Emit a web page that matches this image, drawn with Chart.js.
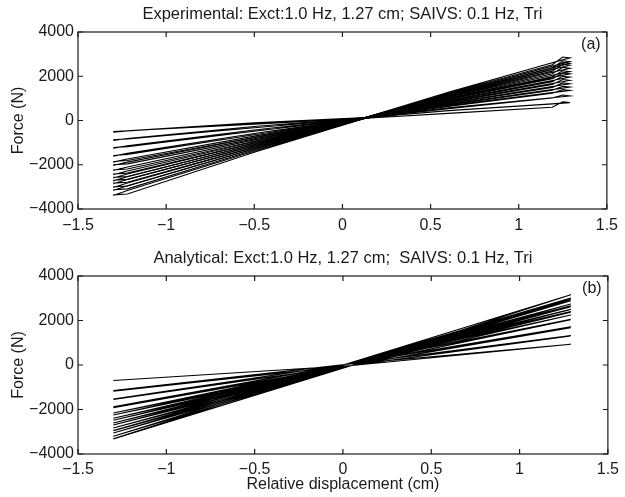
<!DOCTYPE html>
<html><head><meta charset="utf-8">
<script src="https://cdn.jsdelivr.net/npm/chart.js@4.4.1/dist/chart.umd.min.js"></script>
<style>
html,body{margin:0;padding:0;background:#fff;}
#wrap{position:relative;width:625px;height:497px;background:#fff;}
canvas{position:absolute;left:0;}
#chartA{top:0;}
#chartB{top:248px;}
</style></head><body>
<div id="wrap">
<canvas id="chartA" width="625" height="248"></canvas>
<canvas id="chartB" width="625" height="249"></canvas>
</div>
<script>
const titleA = 'Experimental: Exct:1.0 Hz, 1.27 cm; SAIVS: 0.1 Hz, Tri';
const titleB = 'Analytical: Exct:1.0 Hz, 1.27 cm;  SAIVS: 0.1 Hz, Tri';
const tagA = '(a)';
const tagB = '(b)';
const xAxisTitle = 'Relative displacement (cm)';
const yAxisTitle = 'Force (N)';
const xTickValues = [-1.5, -1, -0.5, 0, 0.5, 1, 1.5];
const xTickLabels = ['\u22121.5', '\u22121', '\u22120.5', '0', '0.5', '1', '1.5'];
const yTickValues = [-4000, -2000, 0, 2000, 4000];
const yTickLabels = ['\u22124000', '\u22122000', '0', '2000', '4000'];

// Panel (a): experimental loops. Displacement (cm) vertices of each loading / unloading branch
const dispUpA = [-1.30, -1.22, -0.5, 0.13, 0.6, 1.19, 1.25, 1.29];
const dispDownA = [1.29, 1.19, 0.6, 0.13, -0.5, -1.22, -1.30];
// Force (N) at those vertices, one row per loop
const forceUpA = [
  [-500, -460, -166, 100, 324, 600, 850, 810],
  [-870, -830, -330, 100, 529, 1015, 1150, 1110],
  [-1220, -1180, -486, 100, 631, 1233, 1400, 1360],
  [-1580, -1540, -645, 100, 693, 1365, 1550, 1510],
  [-1850, -1810, -765, 100, 754, 1495, 1700, 1660],
  [-2000, -1960, -832, 100, 815, 1627, 1850, 1810],
  [-2230, -2190, -934, 100, 876, 1758, 2000, 1960],
  [-2420, -2380, -1018, 100, 938, 1891, 2150, 2110],
  [-2570, -2530, -1084, 100, 979, 1978, 2250, 2210],
  [-2700, -2660, -1142, 100, 1040, 2109, 2400, 2360],
  [-2830, -2790, -1200, 100, 1097, 2232, 2540, 2500],
  [-3000, -2960, -1275, 100, 1130, 2301, 2620, 2580],
  [-3130, -3090, -1333, 100, 1163, 2372, 2700, 2660],
  [-3360, -3320, -1435, 100, 1232, 2521, 2870, 2830]
];
const forceDownA = [
  [810, 751, 446, 130, -106, -467, -530],
  [1110, 1028, 569, 130, -270, -815, -900],
  [1360, 1258, 671, 130, -426, -1146, -1250],
  [1510, 1397, 733, 130, -585, -1485, -1610],
  [1660, 1535, 794, 130, -705, -1740, -1880],
  [1810, 1673, 855, 130, -772, -1882, -2030],
  [1960, 1811, 916, 130, -874, -2099, -2260],
  [2110, 1950, 978, 130, -958, -2279, -2450],
  [2210, 2042, 1019, 130, -1024, -2419, -2600],
  [2360, 2180, 1080, 130, -1082, -2542, -2730],
  [2500, 2309, 1137, 130, -1140, -2664, -2860],
  [2580, 2383, 1170, 130, -1215, -2825, -3030],
  [2660, 2457, 1203, 130, -1273, -2949, -3160],
  [2830, 2613, 1272, 130, -1375, -3166, -3390]
];

// Panel (b): analytical trajectory. Turning points and zero crossings
const dispLeftB = -1.30;
const dispRightB = 1.29;
const crossUpB = [0.05, -20];   // [displacement, force] where loading branch crosses
const crossDownB = [0.01, 20];  // [displacement, force] where unloading branch crosses
const leftForceB = [-700, -1150, -1180, -1530, -1550, -1880, -1920, -2160, -2250, -2390, -2480, -2610, -2700, -2830, -2950, -3060, -3200, -3320, -3330];
const rightForceB = [930, 1300, 1320, 1680, 1720, 2030, 2060, 2250, 2370, 2400, 2500, 2620, 2660, 2740, 2890, 2950, 3010, 3160];

const FONT = '"Liberation Sans", Arial, Helvetica, sans-serif';
const TXT = '#1a1a1a';

function labelFor(values, labels, v) {
  const i = values.findIndex(t => Math.abs(t - v) < 1e-9);
  return i >= 0 ? labels[i] : '';
}

const framePlugin = {
  id: 'frame',
  afterDatasetsDraw(chart, args, opts) {
    const {ctx, chartArea} = chart;
    const {left, right, top, bottom} = chartArea;
    const xs = chart.scales.x, ys = chart.scales.y;
    ctx.save();
    ctx.strokeStyle = TXT;
    ctx.lineWidth = 1.2;
    ctx.strokeRect(left, top, right - left, bottom - top);
    const tl = 5;
    ctx.beginPath();
    xTickValues.forEach(v => {
      const p = xs.getPixelForValue(v);
      ctx.moveTo(p, bottom); ctx.lineTo(p, bottom - tl);
      ctx.moveTo(p, top); ctx.lineTo(p, top + tl);
    });
    yTickValues.forEach(v => {
      const p = ys.getPixelForValue(v);
      ctx.moveTo(left, p); ctx.lineTo(left + tl, p);
      ctx.moveTo(right, p); ctx.lineTo(right - tl, p);
    });
    ctx.stroke();
    ctx.font = '16px ' + FONT;
    ctx.fillStyle = TXT;
    ctx.textAlign = 'center';
    ctx.textBaseline = 'middle';
    ctx.fillText(opts.tag, right - 16, top + 13);
    ctx.restore();
  }
};

function lineDataset(points) {
  return {data: points, showLine: true, borderColor: '#000', borderWidth: 1.1, pointRadius: 0, fill: false, tension: 0};
}

const datasetsA = forceUpA.map((row, i) => {
  const up = dispUpA.map((x, j) => ({x: x, y: row[j]}));
  const down = dispDownA.map((x, j) => ({x: x, y: forceDownA[i][j]}));
  return lineDataset(up.concat(down));
});

const trajB = [];
rightForceB.forEach((r, i) => {
  trajB.push({x: dispLeftB, y: leftForceB[i]});
  trajB.push({x: crossUpB[0], y: crossUpB[1]});
  trajB.push({x: dispRightB, y: r});
  trajB.push({x: crossDownB[0], y: crossDownB[1]});
});
trajB.push({x: dispLeftB, y: leftForceB[leftForceB.length - 1]});
const datasetsB = [lineDataset(trajB)];

function makeOptions(title, tag, titlePad, xHeight, showXTitle, tickPad) {
  return {
    animation: false,
    responsive: false,
    devicePixelRatio: 1,
    layout: {padding: {left: 0, right: 12, top: 0, bottom: 0}},
    plugins: {
      legend: {display: false},
      tooltip: {enabled: false},
      title: {display: true, text: title, fullSize: false, color: TXT,
        font: {family: FONT, size: 16.5, weight: 'normal', lineHeight: 1.2}, padding: titlePad},
      frame: {tag: tag}
    },
    scales: {
      x: {
        type: 'linear', min: -1.5, max: 1.5,
        afterBuildTicks: s => { s.ticks = xTickValues.map(v => ({value: v})); },
        ticks: {callback: v => labelFor(xTickValues, xTickLabels, v), color: TXT,
          font: {family: FONT, size: 16}, padding: tickPad, maxRotation: 0, autoSkip: false},
        grid: {display: false, drawTicks: false},
        border: {display: false},
        title: {display: showXTitle, text: xAxisTitle, color: TXT, font: {family: FONT, size: 16}, padding: {top: 0, bottom: 3}},
        afterFit: s => { s.height = xHeight; }
      },
      y: {
        type: 'linear', min: -4000, max: 4000,
        afterBuildTicks: s => { s.ticks = yTickValues.map(v => ({value: v})); },
        ticks: {callback: v => labelFor(yTickValues, yTickLabels, v), color: TXT,
          font: {family: FONT, size: 16}, padding: 4, autoSkip: false},
        grid: {display: false, drawTicks: false},
        border: {display: false},
        title: {display: true, text: yAxisTitle, color: TXT, font: {family: FONT, size: 16}, padding: {top: 9.4, bottom: 0}},
        afterFit: s => { s.width = 78; }
      }
    }
  };
}

new Chart(document.getElementById('chartA'), {
  type: 'scatter',
  data: {datasets: datasetsA},
  options: makeOptions(titleA, tagA, {top: 5, bottom: 7.2}, 39, false, 7),
  plugins: [framePlugin]
});
new Chart(document.getElementById('chartB'), {
  type: 'scatter',
  data: {datasets: datasetsB},
  options: makeOptions(titleB, tagB, {top: 0.8, bottom: 7.4}, 43, true, 6),
  plugins: [framePlugin]
});
</script>
</body></html>
